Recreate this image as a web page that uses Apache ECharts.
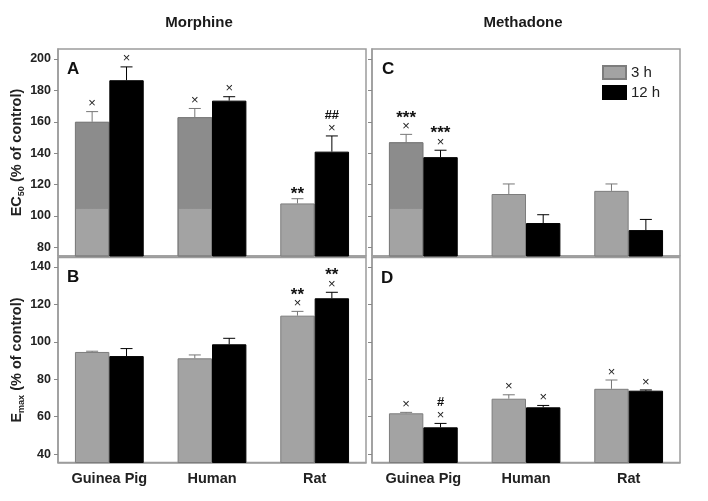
<!DOCTYPE html>
<html><head><meta charset="utf-8">
<script src="https://cdn.jsdelivr.net/npm/echarts@6/dist/echarts.min.js"></script>
<style>html,body{margin:0;padding:0;background:#fff}#c{width:708px;height:501px}</style>
</head><body><div id="c"></div>
<script>
// ---------- data ----------
const categories = ['Guinea Pig', 'Human', 'Rat'];
const legendNames = ['3 h', '12 h'];
const ec50Ticks = [80, 100, 120, 140, 160, 180, 200];
const emaxTicks = [40, 60, 80, 100, 120, 140];
const drugTitles = ['Morphine', 'Methadone'];
const panelLetters = ['A', 'C', 'B', 'D'];

// Panel A: EC50, Morphine
const morphEC50_3h = [160, 163, 108];
const morphEC50_3hErr = [6.5, 5.5, 3];
const morphEC50_12h = [186.5, 173.5, 141];
const morphEC50_12hErr = [8.5, 2.5, 10];
const morphEC50_3hAnn = ['×', '×', '**'];
const morphEC50_12hAnn = ['×', '×', '##\n×'];

// Panel C: EC50, Methadone
const methEC50_3h = [147, 114, 116];
const methEC50_3hErr = [5, 6.4, 4.4];
const methEC50_12h = [137.5, 95.5, 91];
const methEC50_12hErr = [4.4, 5.3, 6.8];
const methEC50_3hAnn = ['***\n×', '', ''];
const methEC50_12hAnn = ['***\n×', '', ''];

// Panel B: Emax, Morphine
const morphEmax_3h = [94.6, 91.2, 114];
const morphEmax_3hErr = [0.4, 1.8, 2.3];
const morphEmax_12h = [92.4, 98.7, 123.3];
const morphEmax_12hErr = [4, 3.2, 3.2];
const morphEmax_3hAnn = ['', '', '**\n×'];
const morphEmax_12hAnn = ['', '', '**\n×'];

// Panel D: Emax, Methadone
const methEmax_3h = [61.8, 69.6, 74.9];
const methEmax_3hErr = [0.5, 2.1, 4.7];
const methEmax_12h = [54.3, 65, 73.9];
const methEmax_12hErr = [2.1, 1, 0.4];
const methEmax_3hAnn = ['×', '×', '×'];
const methEmax_12hAnn = ['#\n×', '×', '×'];

// ---------- style ----------
const FONT = '"Liberation Sans", Arial, sans-serif';
const FRAME = '#9c9c9c';
const GRAY = '#a3a3a3';
const GRAY_DARK = '#8c8c8c';
const GRAY_BORDER = '#7d7d7d';
const GAP = 0.33;
// darker upper tone seen on some 3 h bars of the original print (panel index, category index)
const toneLevel = 104.5;
const tonedBars = [[0, 0], [0, 1], [1, 0]];

const panels = [
  { v3: morphEC50_3h, e3: morphEC50_3hErr, a3: morphEC50_3hAnn, v12: morphEC50_12h, e12: morphEC50_12hErr, a12: morphEC50_12hAnn },
  { v3: methEC50_3h, e3: methEC50_3hErr, a3: methEC50_3hAnn, v12: methEC50_12h, e12: methEC50_12hErr, a12: methEC50_12hAnn },
  { v3: morphEmax_3h, e3: morphEmax_3hErr, a3: morphEmax_3hAnn, v12: morphEmax_12h, e12: morphEmax_12hErr, a12: morphEmax_12hAnn },
  { v3: methEmax_3h, e3: methEmax_3hErr, a3: methEmax_3hAnn, v12: methEmax_12h, e12: methEmax_12hErr, a12: methEmax_12hAnn }
];

const grids = [
  { left: 58, top: 49, width: 308, height: 207 },
  { left: 372, top: 49, width: 308, height: 207 },
  { left: 58, top: 257.5, width: 308, height: 205 },
  { left: 372, top: 257.5, width: 308, height: 205 }
].map(g => Object.assign(g, { show: true, borderColor: FRAME, borderWidth: 1.5, backgroundColor: 'transparent', containLabel: false }));

const ranges = [[74.5, 206.4], [74.5, 206.4], [35.5, 145.1], [35.5, 145.1]];

function annRich(a) {
  return a.split('\n').map(l => {
    if (l === '×') return '{x|×}';
    if (l.indexOf('*') >= 0) return '{st|' + l + '}';
    return '{hs|' + l + '}';
  }).join('\n');
}

const richStyles = {
  x: { fontSize: 13, lineHeight: 12, fill: '#222', color: '#222', fontFamily: FONT },
  st: { fontSize: 17, fontWeight: 'bold', lineHeight: 10, fill: '#111', color: '#111', fontFamily: FONT, padding: [0, 0, -5, 0] },
  hs: { fontSize: 13, fontWeight: 'bold', lineHeight: 13, fill: '#111', color: '#111', fontFamily: FONT }
};

function makeErrSeries(idx, vals, errs, anns, side, color) {
  return {
    type: 'custom', xAxisIndex: idx, yAxisIndex: idx, z: 5, silent: true,
    data: vals.map((v, i) => [i, v, errs[i]]),
    renderItem: function (params, api) {
      const ci = api.value(0), v = api.value(1), e = api.value(2);
      const band = api.size([1, 0])[0];
      const bw = band * (1 - GAP) / 2;
      const base = api.coord([ci, v]);
      const top = api.coord([ci, v + e]);
      const x = base[0] + side * bw / 2;
      const children = [
        { type: 'line', shape: { x1: x, y1: base[1], x2: x, y2: top[1] }, style: { stroke: color, lineWidth: 1 } },
        { type: 'line', shape: { x1: x - 6, y1: top[1], x2: x + 6, y2: top[1] }, style: { stroke: color, lineWidth: 1 } }
      ];
      const a = anns[params.dataIndex];
      if (a) {
        children.push({
          type: 'text', x: x, y: top[1] - 2,
          style: { text: annRich(a), align: 'center', verticalAlign: 'bottom', textAlign: 'center', textVerticalAlign: 'bottom', rich: richStyles, fontFamily: FONT }
        });
      }
      return { type: 'group', children: children };
    }
  };
}

const xAxis = [], yAxis = [], series = [];
panels.forEach((p, i) => {
  const bottom = i >= 2;
  const left = i % 2 === 0;
  const ticks = i < 2 ? ec50Ticks : emaxTicks;
  xAxis.push({
    type: 'category', gridIndex: i, data: categories,
    axisTick: { show: false },
    axisLine: { show: true, lineStyle: { color: FRAME, width: 1.5 } },
    axisLabel: { show: bottom, margin: 9, fontSize: 14.5, fontWeight: 'bold', color: '#222', fontFamily: FONT }
  });
  yAxis.push({
    type: 'value', gridIndex: i, min: ranges[i][0], max: ranges[i][1],
    splitLine: { show: false },
    axisLine: { show: true, lineStyle: { color: FRAME, width: 1.5 } },
    axisTick: { show: true, length: 4, lineStyle: { color: '#888' }, customValues: ticks },
    axisLabel: {
      show: left, margin: 7, fontSize: 12.5, fontWeight: 'bold', color: '#222', fontFamily: FONT,
      customValues: ticks,
      formatter: v => (ticks.indexOf(Math.round(v * 100) / 100) >= 0 ? String(v) : '')
    },
    name: left ? (i < 2 ? '{a|EC}{s|50}{a| (% of control)}' : '{a|E}{s|max}{a| (% of control)}') : '',
    nameLocation: 'middle', nameRotate: 90, nameGap: 30,
    nameTextStyle: {
      rich: {
        a: { fontSize: 14.5, fontWeight: 'bold', color: '#222', fontFamily: FONT },
        s: { fontSize: 9, fontWeight: 'bold', color: '#222', fontFamily: FONT, verticalAlign: 'bottom', padding: [0, 0, -2, 0] }
      }
    }
  });
  series.push({
    name: legendNames[0], type: 'bar', xAxisIndex: i, yAxisIndex: i, data: p.v3.slice(),
    barGap: '0%', barCategoryGap: (GAP * 100) + '%',
    itemStyle: { color: GRAY, borderColor: GRAY_BORDER, borderWidth: 1 }
  });
  series.push({
    name: legendNames[1], type: 'bar', xAxisIndex: i, yAxisIndex: i, data: p.v12,
    barGap: '0%', barCategoryGap: (GAP * 100) + '%',
    itemStyle: { color: '#000', borderColor: '#000', borderWidth: 1 }
  });
  series.push(makeErrSeries(i, p.v3, p.e3, p.a3, -1, '#777'));
  series.push(makeErrSeries(i, p.v12, p.e12, p.a12, 1, '#000'));
});

const letterPos = [[67, 61], [382, 61], [67, 269], [381, 270]];
const graphic = [
  { type: 'text', x: 199, y: 15, style: { text: drugTitles[0], align: 'center', verticalAlign: 'top', font: 'bold 15px ' + FONT, fill: '#1a1a1a' } },
  { type: 'text', x: 523, y: 15, style: { text: drugTitles[1], align: 'center', verticalAlign: 'top', font: 'bold 15px ' + FONT, fill: '#1a1a1a' } }
].concat(panelLetters.map((l, k) => ({
  type: 'text', x: letterPos[k][0], y: letterPos[k][1],
  style: { text: l, align: 'left', verticalAlign: 'top', font: 'bold 17px ' + FONT, fill: '#111' }
})));

const chart = echarts.init(document.getElementById('c'), null, { renderer: 'canvas' });
chart.setOption({
  animation: false,
  backgroundColor: '#fff',
  grid: grids,
  xAxis: xAxis,
  yAxis: yAxis,
  legend: {
    data: legendNames, orient: 'vertical', left: 597, top: 60,
    itemWidth: 23, itemHeight: 13, itemGap: 5, icon: 'rect',
    textStyle: { fontSize: 15, color: '#222', fontFamily: FONT },
    selectedMode: false
  },
  graphic: graphic,
  series: series
});

// apply the two-tone fill on the toned bars, split at toneLevel through the axis scale
tonedBars.forEach(([pi, ci]) => {
  const yPix = chart.convertToPixel({ yAxisIndex: pi }, toneLevel);
  const sIdx = pi * 4;
  series[sIdx].data[ci] = {
    value: panels[pi].v3[ci],
    itemStyle: {
      color: new echarts.graphic.LinearGradient(0, yPix - 0.5, 0, yPix + 0.5,
        [{ offset: 0, color: GRAY_DARK }, { offset: 1, color: GRAY }], true)
    }
  };
});
chart.setOption({ series: series });
</script>
</body></html>
